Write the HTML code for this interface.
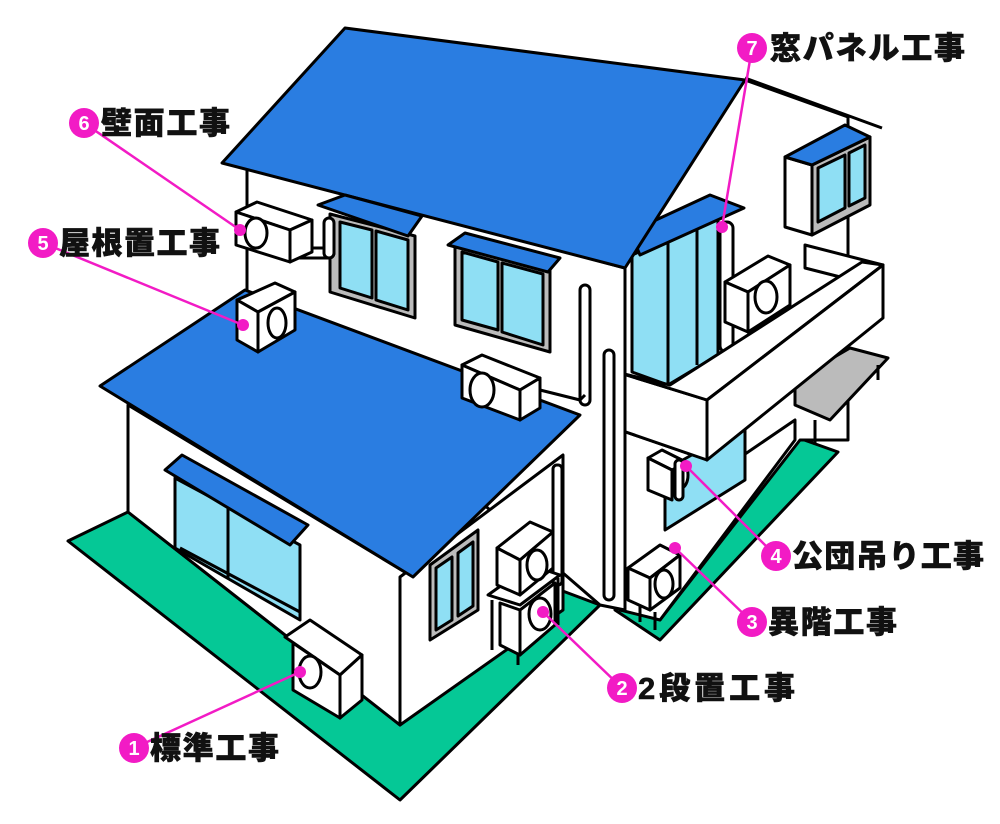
<!DOCTYPE html>
<html><head><meta charset="utf-8"><style>
html,body{margin:0;padding:0;background:#fff;}
svg{display:block}
.t{font-family:"Liberation Sans","Noto Sans CJK JP",sans-serif;font-weight:900;font-size:31px;fill:#111;stroke:#111;stroke-width:0.6px}
.n{font-family:"Liberation Sans",sans-serif;font-weight:bold;font-size:20px;fill:#fff;text-anchor:middle}
</style></head><body>
<svg width="1000" height="824" viewBox="0 0 1000 824" xmlns="http://www.w3.org/2000/svg">
<g stroke="#000" stroke-width="3" stroke-linejoin="round" fill="#fff">
<!-- ground -->
<polygon points="68,541 128,512 400,725 560,590 600,605 400,800" fill="#05c896"/>
<polygon points="615,610 660,640 838,452 793,436" fill="#05c896"/>
<!-- right house wall -->
<polygon points="612,270 745,80 848,117 848,440 800,440 660,620 612,600"/>
<line x1="745" y1="78" x2="882" y2="128"/>
<!-- right upper window box -->
<polygon points="785,157 812,165 812,235 785,227"/>
<polygon points="812,165 870,137 870,205 812,235" fill="#bbb"/>
<polygon points="818,168 845,155 845,208 818,222" fill="#8fdff4"/>
<polygon points="849,153 865,145 865,198 849,206" fill="#8fdff4"/>
<polygon points="785,157 845,125 870,137 812,165" fill="#2a7de1"/>
<!-- window panel left (7) -->
<polygon points="632,255 718,218 718,355 668,385 632,372" fill="#8fdff4"/>
<line x1="668" y1="240" x2="668" y2="385"/><line x1="697" y1="228" x2="697" y2="365"/>
<rect x="720" y="222" width="13" height="130" rx="6"/>
<polygon points="630,232 710,195 744,208 640,255" fill="#2a7de1"/>
<!-- under-balcony wall + window -->
<polygon points="620,430 707,460 707,480 795,420 795,440 660,620 620,610" />
<polygon points="665,470 745,425 745,480 665,530" fill="#8fdff4"/>
<!-- bench -->
<polygon points="795,380 850,348 888,358 830,420 795,405" fill="#bbb"/>
<line x1="815" y1="420" x2="815" y2="445"/><line x1="878" y1="365" x2="878" y2="380"/>
<!-- balcony back piece -->
<polygon points="805,245 883,265 860,282 805,268" />
<!-- balcony AC -->
<polygon points="725,282 768,256 790,265 748,292"/>
<polygon points="725,282 748,292 748,332 725,322"/>
<polygon points="748,292 790,265 790,305 748,332"/>
<ellipse cx="766" cy="297" rx="11" ry="16"/>
<!-- balcony walls -->
<polygon points="620,373 707,400 707,460 620,430"/>
<polygon points="620,373 670,385 862,262 883,265 707,400"/>
<polygon points="707,400 883,265 883,318 707,460"/>
<!-- AC4 -->
<polygon points="648,458 662,450 686,462 672,470"/>
<polygon points="648,458 672,470 672,500 648,490"/>
<ellipse cx="681" cy="475" rx="7" ry="13"/>
<rect x="675" y="460" width="8" height="40" rx="4"/>
<!-- AC3 -->
<polygon points="628,568 660,545 680,555 650,578"/>
<polygon points="628,568 650,578 650,610 628,600"/>
<polygon points="650,578 680,555 680,588 650,610"/>
<ellipse cx="664" cy="584" rx="9" ry="14"/>
<line x1="640" y1="605" x2="640" y2="622"/><line x1="655" y1="612" x2="655" y2="630"/>
<!-- upper main wall -->
<polygon points="247,165 625,268 625,610 600,605 247,300"/>
<rect x="604" y="350" width="10" height="250" rx="5"/>
<rect x="580" y="285" width="10" height="120" rx="5"/>
<!-- upper roof -->
<polygon points="222,163 345,28 745,80 625,268" fill="#2a7de1"/>
<!-- window 1 -->
<polygon points="330,214 415,236 415,318 330,292" fill="#bbb"/>
<polygon points="340,222 372,230 372,298 340,288" fill="#8fdff4"/>
<polygon points="376,231 408,240 408,310 376,300" fill="#8fdff4"/>
<polygon points="318,205 345,195 422,216 408,236" fill="#2a7de1"/>
<!-- window 2 -->
<polygon points="455,245 550,270 550,352 455,325" fill="#bbb"/>
<polygon points="462,252 498,262 498,330 462,320" fill="#8fdff4"/>
<polygon points="502,263 543,274 543,345 502,332" fill="#8fdff4"/>
<polygon points="448,245 465,233 560,258 548,272" fill="#2a7de1"/>
<!-- AC6 -->
<rect x="292" y="248" width="42" height="10" rx="5"/>
<rect x="324" y="218" width="10" height="40" rx="5"/>
<polygon points="236,212 257,202 312,220 290,230"/>
<polygon points="236,212 290,230 290,262 236,245"/>
<polygon points="290,230 312,220 312,252 290,262"/>
<ellipse cx="256" cy="233" rx="11" ry="15"/>
<path d="M540,390 L580,400 L585,395" fill="none"/>
<!-- lower house -->
<polygon points="128,405 413,577 400,725 128,512"/>
<polygon points="400,577 563,455 563,610 400,725"/>
<!-- lower window -->
<polygon points="175,478 300,545 300,620 175,548" fill="#8fdff4"/>
<line x1="228" y1="506" x2="228" y2="578"/>
<line x1="180" y1="548" x2="300" y2="612"/>
<polygon points="165,470 182,455 308,525 290,545" fill="#2a7de1"/>
<!-- side window -->
<polygon points="430,565 478,530 478,610 430,640" fill="#bbb"/>
<polygon points="436,568 452,557 452,620 436,630" fill="#8fdff4"/>
<polygon points="458,553 473,542 473,606 458,616" fill="#8fdff4"/>
<rect x="553" y="465" width="9" height="120" rx="4"/>
<!-- lower roof -->
<polygon points="100,386 245,290 580,415 413,577" fill="#2a7de1"/>
<!-- AC5 -->
<polygon points="237,300 275,283 295,292 258,312"/>
<polygon points="237,300 258,312 258,352 237,340"/>
<polygon points="258,312 295,292 295,330 258,352"/>
<ellipse cx="277" cy="323" rx="9" ry="15"/>
<!-- mid AC -->
<polygon points="462,365 482,355 540,378 520,390"/>
<polygon points="462,365 520,390 520,420 462,398"/>
<polygon points="520,390 540,378 540,408 520,420"/>
<ellipse cx="482" cy="390" rx="12" ry="17"/>
<!-- AC2 stack -->
<polygon points="488,595 530,565 560,575 520,605"/>
<line x1="492" y1="600" x2="492" y2="650"/><line x1="518" y1="610" x2="518" y2="665"/><line x1="558" y1="578" x2="558" y2="625"/>
<polygon points="500,603 520,610 520,655 500,645"/>
<polygon points="520,610 555,583 555,625 520,655"/>
<ellipse cx="540" cy="614" rx="11" ry="16"/>
<polygon points="497,548 530,522 553,532 520,560"/>
<polygon points="497,548 520,560 520,595 497,585"/>
<polygon points="520,560 553,532 553,568 520,595"/>
<ellipse cx="537" cy="565" rx="10" ry="15"/>
<!-- AC1 -->
<polygon points="285,637 310,620 362,655 340,675"/>
<polygon points="293,643 340,675 340,718 293,690"/>
<polygon points="340,675 362,655 362,700 340,718"/>
<ellipse cx="310" cy="672" rx="11" ry="16"/>
</g>
<g stroke="#f21bc5" stroke-width="2.5" fill="#f21bc5">
<line x1="84" y1="123" x2="240" y2="230"/><circle cx="240" cy="230" r="6" stroke="none"/>
<line x1="43" y1="243" x2="243" y2="325"/><circle cx="243" cy="325" r="6" stroke="none"/>
<line x1="752" y1="48" x2="722" y2="227"/><circle cx="722" cy="227" r="6" stroke="none"/>
<line x1="776" y1="556" x2="686" y2="466"/><circle cx="686" cy="466" r="6" stroke="none"/>
<line x1="752" y1="622" x2="675" y2="548"/><circle cx="675" cy="548" r="6" stroke="none"/>
<line x1="622" y1="688" x2="543" y2="612"/><circle cx="543" cy="612" r="6" stroke="none"/>
<line x1="134" y1="748" x2="300" y2="672"/><circle cx="300" cy="672" r="6" stroke="none"/>
<circle cx="752" cy="48" r="15" stroke="none"/><circle cx="84" cy="123" r="15" stroke="none"/>
<circle cx="43" cy="243" r="15" stroke="none"/><circle cx="776" cy="556" r="15" stroke="none"/>
<circle cx="752" cy="622" r="15" stroke="none"/><circle cx="622" cy="688" r="15" stroke="none"/>
<circle cx="134" cy="748" r="15" stroke="none"/>
</g>
<text class="n" x="752" y="55">7</text><text class="n" x="84" y="130">6</text>
<text class="n" x="43" y="250">5</text><text class="n" x="776" y="563">4</text>
<text class="n" x="752" y="629">3</text><text class="n" x="622" y="695">2</text>
<text class="n" x="134" y="755">1</text>
<text class="t" x="770" y="59" textLength="195">窓パネル工事</text>
<text class="t" x="101" y="134" textLength="129">壁面工事</text>
<text class="t" x="59" y="254" textLength="161">屋根置工事</text>
<text class="t" x="792" y="567" textLength="192">公団吊り工事</text>
<text class="t" x="768" y="633" textLength="129">異階工事</text>
<text class="t" x="638" y="699" textLength="157">2段置工事</text>
<text class="t" x="150" y="759" textLength="129">標準工事</text>
</svg>
</body></html>
